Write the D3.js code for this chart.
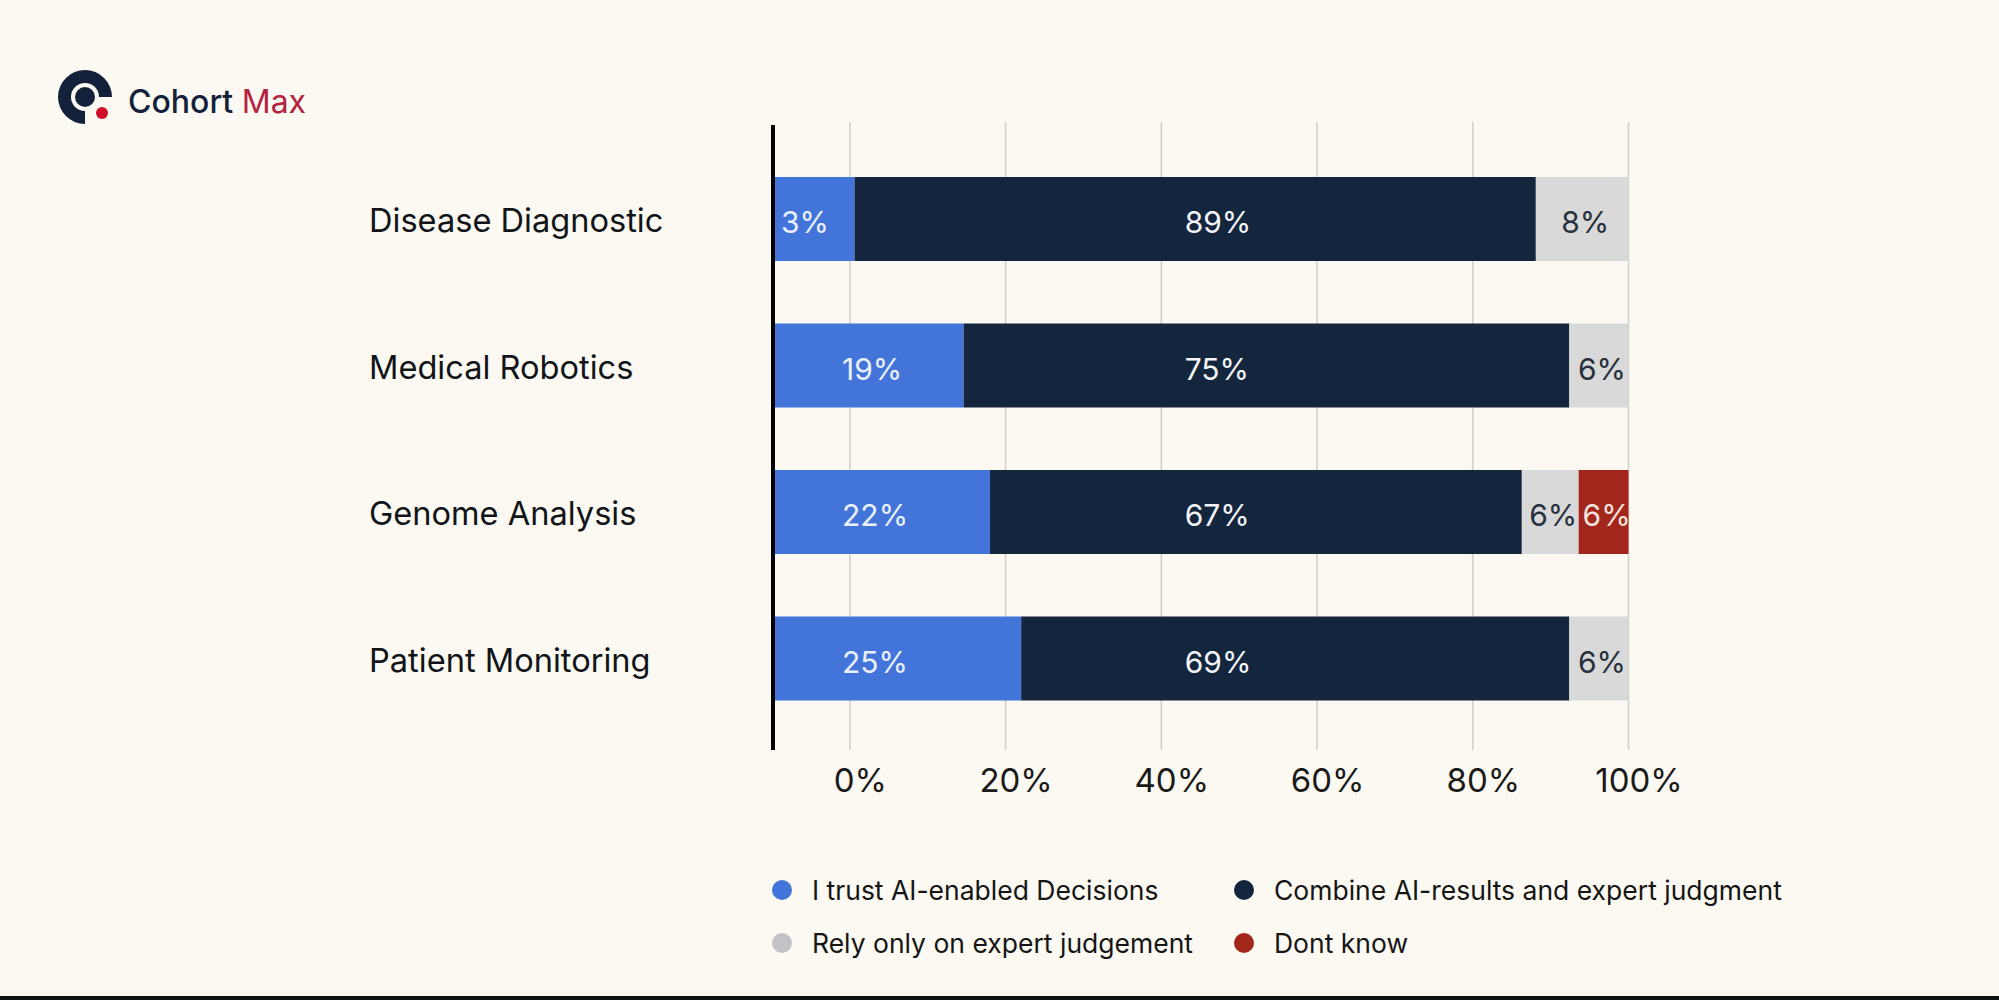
<!DOCTYPE html>
<html>
<head>
<meta charset="utf-8">
<script src="https://cdn.jsdelivr.net/npm/d3@7"></script>
<style>
  html, body { margin: 0; padding: 0; background: #FBF9F1; }
  svg { display: block; }
</style>
</head>
<body>
<svg id="chart" width="1999" height="1000"></svg>
<script>
// ---------- data ----------
const categories = ["Disease Diagnostic", "Medical Robotics", "Genome Analysis", "Patient Monitoring"];
const seriesNames = ["I trust AI-enabled Decisions", "Combine AI-results and expert judgment", "Rely only on expert judgement", "Dont know"];
// printed percentages
const trustPct    = [3, 19, 22, 25];
const combinePct  = [89, 75, 67, 69];
const relyPct     = [8, 6, 6, 6];
const dontKnowPct = [0, 0, 6, 0];
// bar lengths as drawn (axis units, stacked from the axis start at -10)
const trustLen    = [10.6, 24.6, 28.0, 32.0];
const combineLen  = [87.5, 77.8, 68.3, 70.4];
const relyLen     = [11.9, 7.6, 7.3, 7.6];
const dontKnowLen = [0, 0, 6.4, 0];
const xTicks = [0, 20, 40, 60, 80, 100];
const xDomain = [-10, 100];

// ---------- style ----------
const colors = ["#4274D9", "#14263D", "#D9D9D9", "#A3261C"];
const legendColors = ["#4274D9", "#14263D", "#C3C2C7", "#A3261C"];
const labelColors = ["#EAF0FA", "#F2F4F7", "#27303C", "#F6E3DF"];
const FONT = "Inter, 'Noto Sans', sans-serif";

const svg = d3.select("#chart");
svg.append("rect").attr("width", 1999).attr("height", 1000).attr("fill", "#FBF9F1");

const x = d3.scaleLinear().domain(xDomain).range([772, 1628.5]);
const y = d3.scalePoint().domain(categories).range([219, 658.5]);
const barH = 84;

// gridlines
svg.append("g").selectAll("line").data(xTicks).join("line")
  .attr("x1", d => x(d)).attr("x2", d => x(d))
  .attr("y1", 122).attr("y2", 750)
  .attr("stroke", "#D2D0CB").attr("stroke-width", 1.6);

// tick labels via axis
const axisG = svg.append("g").attr("transform", "translate(10,750)")
  .call(d3.axisBottom(x).tickValues(xTicks).tickFormat(d => d + "%").tickSize(0).tickPadding(0));
axisG.select(".domain").remove();
axisG.selectAll("text")
  .attr("font-family", FONT).attr("font-size", 33).attr("fill", "#1A1A1A")
  .attr("dy", null).attr("y", 42);

// stacked bars
const lens = [trustLen, combineLen, relyLen, dontKnowLen];
const pcts = [trustPct, combinePct, relyPct, dontKnowPct];
const segs = [];
categories.forEach((c, i) => {
  let start = xDomain[0];
  lens.forEach((arr, s) => {
    const v = arr[i];
    if (v > 0) segs.push({cat: c, s, x0: start, x1: start + v, pct: pcts[s][i]});
    start += v;
  });
});

const barG = svg.append("g");
barG.selectAll("rect").data(segs).join("rect")
  .attr("x", d => x(d.x0)).attr("width", d => x(d.x1) - x(d.x0))
  .attr("y", d => y(d.cat) - barH / 2).attr("height", barH)
  .attr("fill", d => colors[d.s]);

// bar labels
const labelG = svg.append("g");
labelG.selectAll("text").data(segs).join("text")
  .attr("font-family", FONT).attr("font-size", 30)
  .attr("fill", d => labelColors[d.s])
  .attr("y", d => y(d.cat) + 14)
  .text(d => d.pct + "%")
  .each(function(d) {
    const t = d3.select(this);
    const w = this.getComputedTextLength();
    if (d.s === 0) {
      const col = x(-1);
      if (col + w < x(d.x1) - 4) t.attr("x", col).attr("text-anchor", "start");
      else t.attr("x", x(d.x0) + 9).attr("text-anchor", "start");
    } else if (d.s === 1) {
      t.attr("x", x(43)).attr("text-anchor", "start");
    } else {
      t.attr("x", (x(d.x0) + x(d.x1)) / 2 + 3).attr("text-anchor", "middle");
    }
  });

// vertical axis line
svg.append("line")
  .attr("x1", x(xDomain[0]) + 1).attr("x2", x(xDomain[0]) + 1)
  .attr("y1", 125).attr("y2", 750)
  .attr("stroke", "#000").attr("stroke-width", 4);

// category labels
svg.append("g").selectAll("text").data(categories).join("text")
  .attr("x", 369).attr("y", d => y(d) + 13)
  .attr("font-family", FONT).attr("font-size", 32.6).attr("fill", "#111418")
  .text(d => d);

// legend
const legendPos = [[782, 890], [1244, 890], [782, 943], [1244, 943]];
const lg = svg.append("g").selectAll("g").data(seriesNames).join("g")
  .attr("transform", (d, i) => `translate(${legendPos[i][0]},${legendPos[i][1]})`);
lg.append("circle").attr("r", 10).attr("fill", (d, i) => legendColors[i]);
lg.append("text").attr("x", 30).attr("y", 9.5)
  .attr("font-family", FONT).attr("font-size", 26.5).attr("fill", "#151515")
  .text(d => d);

// logo
const logo = svg.append("g").attr("transform", "translate(85,97)");
const ring = d3.arc().innerRadius(14).outerRadius(27)
  .startAngle(Math.PI).endAngle(Math.PI * 2.5);
logo.append("path").attr("d", ring()).attr("fill", "#14213A");
logo.append("circle").attr("r", 10).attr("fill", "#14213A");
logo.append("circle").attr("cx", 17).attr("cy", 16).attr("r", 6).attr("fill", "#D0102A");
const logoText = svg.append("text").attr("x", 128).attr("y", 113)
  .attr("font-family", FONT).attr("font-size", 32).attr("font-weight", 500);
logoText.append("tspan").attr("fill", "#14213A").text("Cohort ");
logoText.append("tspan").attr("fill", "#B3233F").attr("font-weight", 400).text("Max");

// bottom border
svg.append("rect").attr("x", 0).attr("y", 996).attr("width", 1999).attr("height", 4).attr("fill", "#111");
</script>
</body>
</html>
